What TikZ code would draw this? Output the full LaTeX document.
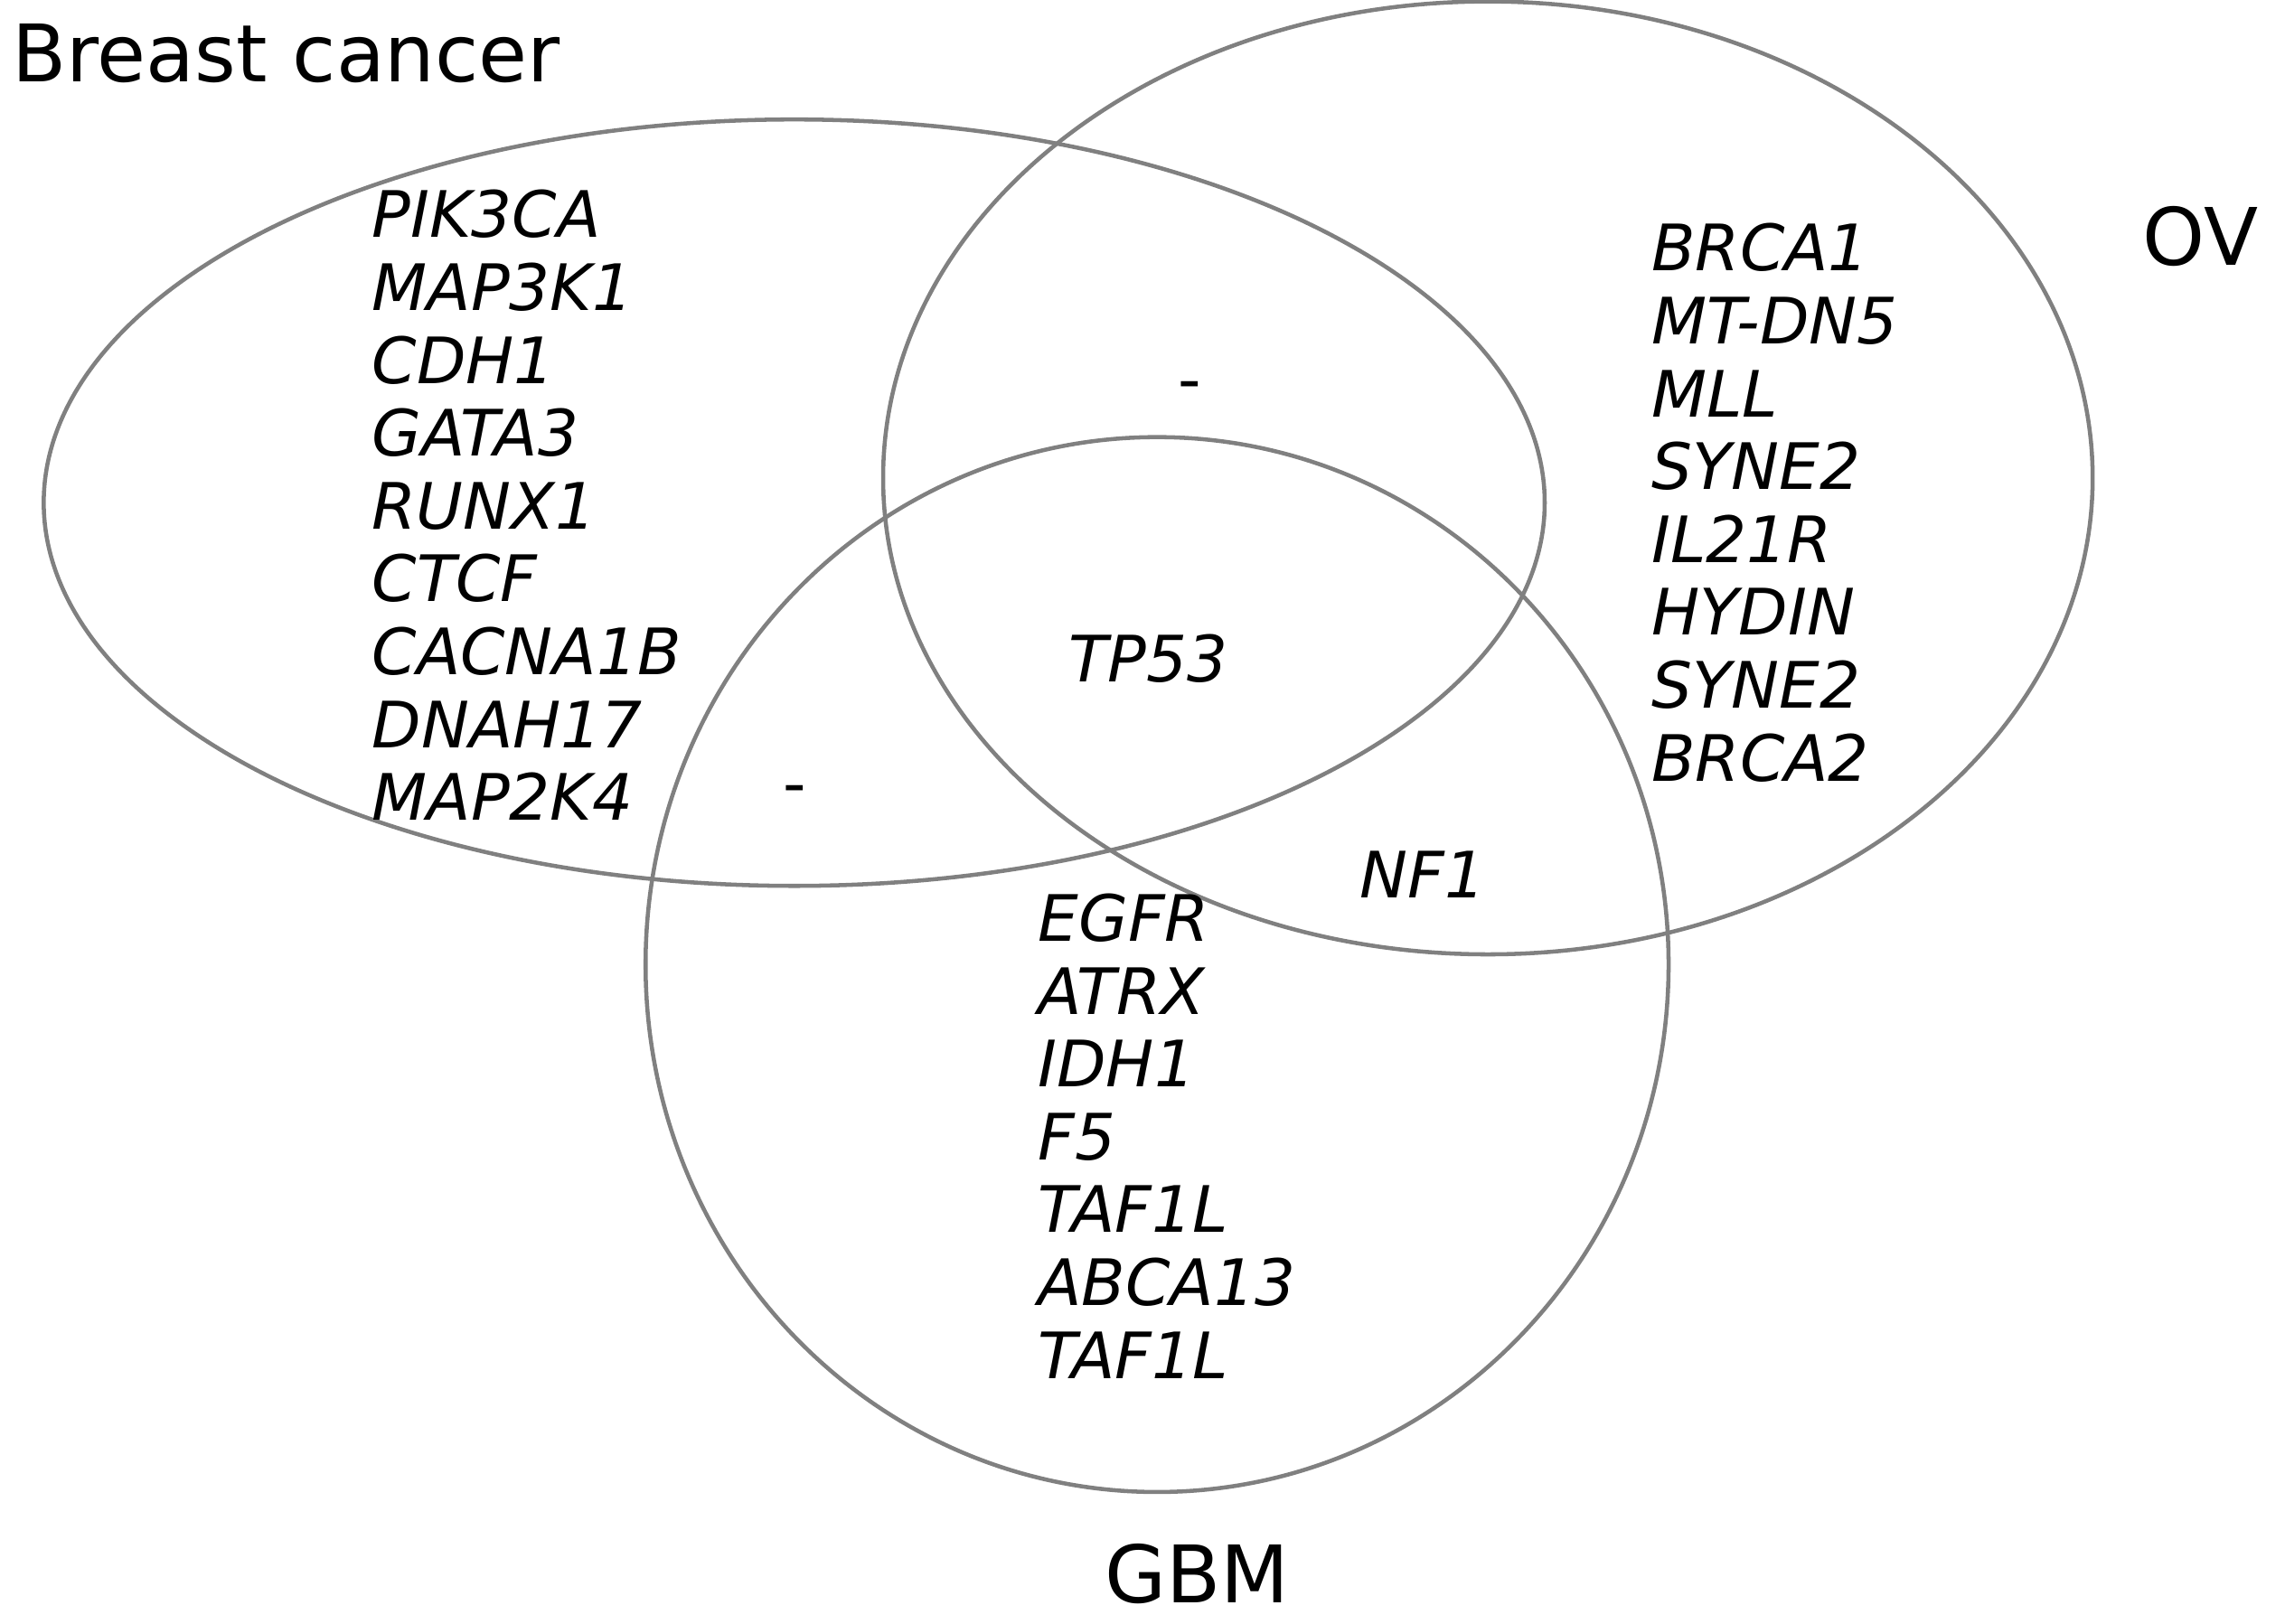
\documentclass[tikz,border=0pt]{standalone}
\usepackage{fontspec}
\setmainfont{DejaVu Sans}
\begin{document}
\begin{tikzpicture}[x=0.02cm,y=-0.02cm,
  circ/.style={draw=black!50,line width=1.6pt},
  gene/.style={font=\fontsize{25}{30}\selectfont\itshape,anchor=base west,inner sep=0pt},
  lab/.style={font=\fontsize{31}{36}\selectfont,anchor=base west,inner sep=0pt}]
\useasboundingbox (0,0) rectangle (1568,1114);
\draw[circ] (545,345) ellipse [x radius=515,y radius=263];
\draw[circ] (1021,328) ellipse [x radius=415,y radius=327];
\draw[circ] (794,662) ellipse [x radius=351,y radius=362];
\node[lab] (bc) at (8,56) {Breast cancer};
\node[lab] (ov) at (1470,182) {OV};
\node[lab] (gbm) at (758,1100) {GBM};
\foreach \g [count=\i] in {PIK3CA,MAP3K1,CDH1,GATA3,RUNX1,CTCF,CACNA1B,DNAH17,MAP2K4}
  \node[gene] (b\i) at (255,{163+50*(\i-1)}) {\g};
\foreach \g [count=\i] in {BRCA1,MT-DN5,MLL,SYNE2,IL21R,HYDIN,SYNE2,BRCA2}
  \node[gene] (o\i) at (1133,{186+50*(\i-1)}) {\g};
\foreach \g [count=\i] in {EGFR,ATRX,IDH1,F5,TAF1L,ABCA13,TAF1L}
  \node[gene] (g\i) at (712,{646+50*(\i-1)}) {\g};
\node[gene] (tp) at (733,468) {TP53};
\node[gene] (nf) at (933,616) {NF1};
\node[gene,font=\fontsize{25}{30}\selectfont] (d1) at (808,276) {-};
\node[gene,font=\fontsize{25}{30}\selectfont] (d2) at (537,553) {-};
\end{tikzpicture}
\end{document}
